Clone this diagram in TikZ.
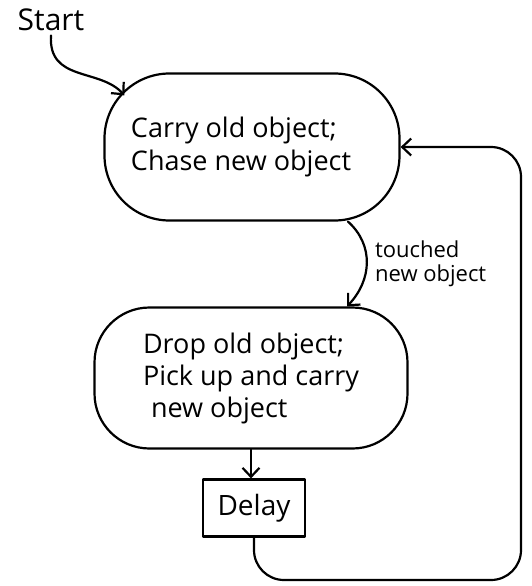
\documentclass[tikz,border=0pt]{standalone}
\usepackage{fontspec}
\setmainfont{Open Sans}
\usetikzlibrary{arrows.meta,calc}
\begin{document}
\begin{tikzpicture}[x=1pt,y=-1pt,
  line width=2.2pt, line cap=round, line join=round,
  arr/.style={-{Straight Barb[length=9pt,width=17pt]}},
  stateA/.style={draw, rounded corners=65pt, minimum width=295pt, minimum height=147pt,
    inner sep=0pt, align=left, font=\fontsize{27}{33}\selectfont},
  stateB/.style={draw, rounded corners=55pt, minimum width=313pt, minimum height=141pt,
    inner sep=0pt, align=left, font=\fontsize{27}{32}\selectfont},
  boxst/.style={draw, minimum width=102pt, minimum height=57pt, inner sep=0pt,
    font=\fontsize{28}{30}\selectfont},
  lbl/.style={align=left, inner sep=0pt, font=\fontsize{22}{24}\selectfont}
]
\useasboundingbox (0,0) rectangle (531,586);

\node[font=\fontsize{30}{32}\selectfont] (start) at (51,20) {Start};
\node[stateA] (e1) at (252,147) {Carry old object;\hspace*{22pt}\\Chase new object\hspace*{22pt}};
\node[stateB] (e2) at (251,378) {Drop old object;\\Pick up and carry\hspace*{6pt}\\\hspace*{8pt}new object};
\node[boxst] (delay) at (254,508) {Delay};
\node[lbl, anchor=west] (touch) at (374,264) {touched\\new object};
\coordinate (loopcorner) at (521,580);

\draw[arr] (start.south) .. controls (48,82) and (100,68) .. ($(e1.north west)+(21,23)$);
\draw[arr] ([xshift=96pt]e1.south) .. controls (374,245) and (372,280) .. ([xshift=96pt]e2.north);
\draw[arr] (e2.south) -- (e2.south |- delay.north);
\draw[arr, rounded corners=30pt] (delay.south) |- (loopcorner) |- (e1.east);
\end{tikzpicture}
\end{document}
